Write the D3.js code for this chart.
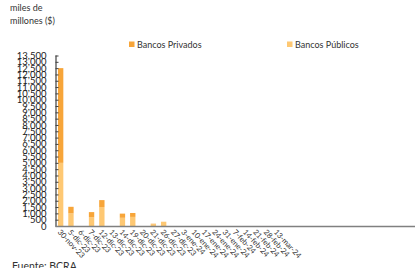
<!DOCTYPE html>
<html><head><meta charset="utf-8">
<script src="https://cdn.jsdelivr.net/npm/d3@7"></script>
<style>body{margin:0;background:#fff} svg{display:block}</style>
</head><body><svg id="c" width="415" height="268"></svg>
<script>
const categories = ["30-nov-23","5-dic-23","6-dic-23","7-dic-23","12-dic-23","13-dic-23","14-dic-23","19-dic-23","20-dic-23","21-dic-23","26-dic-23","27-dic-23","3-ene-24","10-ene-24","17-ene-24","24-ene-24","31-ene-24","7-feb-24","14-feb-24","21-feb-24","28-feb-24","13-mar-24"];
const publicos = [5000,1000,0,700,1500,0,650,720,0,150,340,0,0,0,0,0,0,0,0,0,0,0];
const privados = [7500,520,0,400,550,0,330,310,0,30,0,0,0,0,0,0,0,0,0,0,0,0];
const yTicks = [0,500,1000,1500,2000,2500,3000,3500,4000,4500,5000,5500,6000,6500,7000,7500,8000,8500,9000,9500,10000,10500,11000,11500,12000,12500,13000,13500];
const seriesNames = ["Bancos Privados","Bancos Públicos"];
const colors = {"Bancos Privados":"#F7A539","Bancos Públicos":"#FEC873"};

const svg = d3.select("#c");
const font = "Lato, 'Open Sans', sans-serif";
const x0 = 55.5, yBase = 226, yTop = 55.5;
const step = 10.3;
const x = d3.scaleBand().domain(categories).range([x0, x0 + categories.length*step]).paddingInner(0.48).paddingOuter(0.24);
const y = d3.scaleLinear().domain([0,13500]).range([yBase, yTop]);

// title
svg.append("text").attr("x",10).attr("y",11).attr("font-family",font).attr("font-size",9).attr("fill","#333").text("miles de");
svg.append("text").attr("x",10).attr("y",24).attr("font-family",font).attr("font-size",9).attr("fill","#333").text("millones ($)");

// bars
const data = categories.map((c,i)=>({c, pub:publicos[i], priv:privados[i]}));
const g = svg.append("g");
g.selectAll("rect.pub").data(data).join("rect").attr("class","pub")
  .attr("x",d=>x(d.c)).attr("width",x.bandwidth())
  .attr("y",d=>y(d.pub)).attr("height",d=>y(0)-y(d.pub))
  .attr("fill",colors["Bancos Públicos"]);
g.selectAll("rect.priv").data(data).join("rect").attr("class","priv")
  .attr("x",d=>x(d.c)).attr("width",x.bandwidth())
  .attr("y",d=>y(d.pub+d.priv)).attr("height",d=>y(d.pub)-y(d.pub+d.priv))
  .attr("fill",colors["Bancos Privados"]);

// y axis
const yAxis = d3.axisLeft(y).tickValues(yTicks).tickSize(-3).tickPadding(9)
  .tickFormat(d3.format(","));
const ya = svg.append("g").attr("transform",`translate(${x0},0)`).call(yAxis);
ya.select(".domain").attr("stroke","#404040").attr("stroke-width",1.2).attr("d",`M0.5,${yTop}V${yBase}`);
ya.selectAll(".tick line").attr("stroke","#404040").attr("stroke-width",1);
ya.selectAll(".tick text").attr("font-family",font).attr("font-size",9.5).attr("fill","#222");

// x axis
const xAxis = d3.axisBottom(x).tickSize(0).tickPadding(0);
const xa = svg.append("g").attr("transform",`translate(0,${yBase})`).call(xAxis);
xa.select(".domain").remove();
xa.selectAll(".tick text").attr("font-family",font).attr("font-size",7.6).attr("fill","#333")
  .attr("text-anchor","start").attr("dy",0).attr("y",0)
  .attr("transform","translate(-3.5,6.5) rotate(47)");
svg.append("line").attr("x1",x0).attr("x2",415).attr("y1",yBase+0.5).attr("y2",yBase+0.5)
  .attr("stroke","#808080").attr("stroke-width",1.6);

// legend
const legX = [129, 287];
seriesNames.forEach((s,i)=>{
  svg.append("rect").attr("x",legX[i]).attr("y",41.5).attr("width",5.5).attr("height",5.5).attr("fill",colors[s]);
  svg.append("text").attr("x",legX[i]+8).attr("y",47.5).attr("font-family",font).attr("font-size",9).attr("fill","#333").text(s);
});

// source
svg.append("text").attr("x",12).attr("y",270).attr("font-family",font).attr("font-size",10.5).attr("fill","#333").text("Fuente: BCRA");
</script></body></html>
